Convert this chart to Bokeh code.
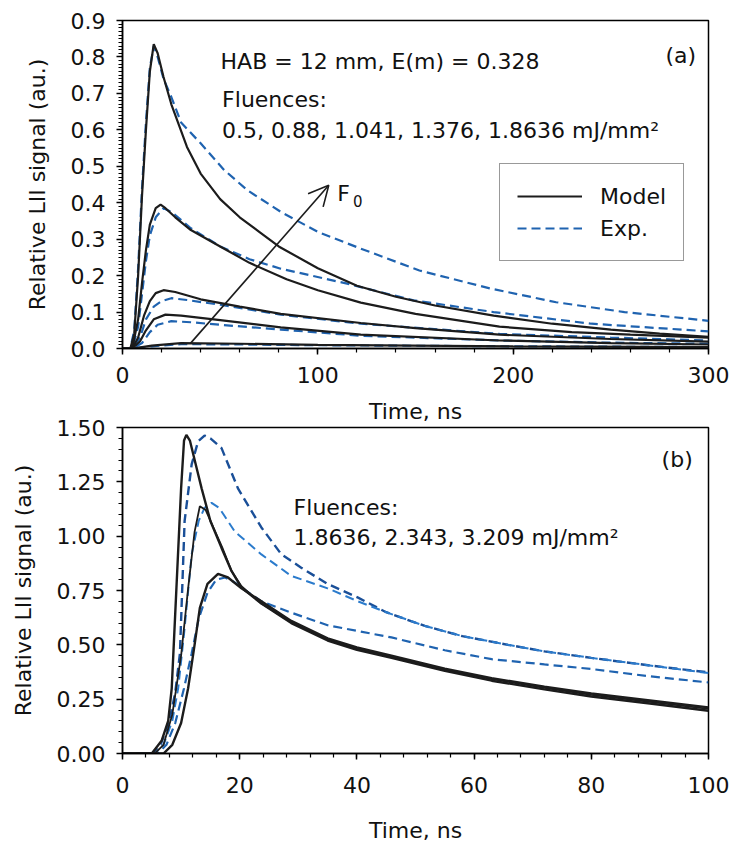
from bokeh.plotting import figure
from bokeh.layouts import column
from bokeh.models import (Range1d, SingleIntervalTicker, NumeralTickFormatter, Legend,
                          LegendItem, Arrow, OpenHead, Label, Title)
from bokeh.embed import file_html
from bokeh.resources import INLINE

FONT = "DejaVu Sans"
FS = "22px"

# ---------------- Panel (a) data: HAB = 12 mm ----------------
t_m1 = [0, 4, 6, 8, 10, 12, 14, 16, 18, 21, 25, 33, 40, 50, 60, 70, 80, 100, 120, 140, 160, 190, 220, 250, 275, 300]
v_m1 = [0, 0, 0.04, 0.20, 0.42, 0.60, 0.76, 0.835, 0.81, 0.745, 0.67, 0.553, 0.48, 0.41, 0.36, 0.32, 0.28, 0.22, 0.172, 0.142, 0.118, 0.09, 0.068, 0.052, 0.041, 0.032]
t_e1 = [0, 4, 6, 8, 10, 12, 14, 16, 18, 21, 25, 30, 40, 52, 64, 81, 100, 122, 152, 188, 222, 257, 300]
v_e1 = [0, 0, 0.05, 0.22, 0.44, 0.62, 0.77, 0.83, 0.80, 0.74, 0.69, 0.62, 0.563, 0.49, 0.434, 0.375, 0.32, 0.274, 0.214, 0.165, 0.127, 0.10, 0.076]

t_m2 = [0, 5, 8, 10, 12, 14, 17, 19.5, 22, 27, 35, 50, 65, 84, 100, 122, 150, 193, 230, 260, 300]
v_m2 = [0, 0, 0.08, 0.18, 0.27, 0.34, 0.385, 0.395, 0.385, 0.36, 0.325, 0.28, 0.235, 0.19, 0.16, 0.126, 0.095, 0.06, 0.045, 0.038, 0.03]
t_e2 = [0, 5, 8, 10, 12, 14, 17, 21, 25, 35, 50, 65, 81, 115, 149, 190, 240, 300]
v_e2 = [0, 0, 0.06, 0.15, 0.24, 0.31, 0.36, 0.385, 0.375, 0.33, 0.28, 0.245, 0.219, 0.178, 0.132, 0.10, 0.068, 0.047]

t_m3 = [0, 5, 8, 11, 14, 17, 21, 27, 40, 60, 81, 122, 150, 193, 250, 300]
v_m3 = [0, 0, 0.03, 0.09, 0.13, 0.152, 0.16, 0.155, 0.135, 0.115, 0.095, 0.07, 0.056, 0.038, 0.026, 0.019]
t_e3 = [0, 5, 9, 12, 16, 20, 25, 33, 50, 81, 122, 193, 250, 300]
v_e3 = [0, 0, 0.03, 0.08, 0.115, 0.13, 0.138, 0.133, 0.12, 0.093, 0.068, 0.04, 0.03, 0.022]

t_m4 = [0, 5, 9, 12, 16, 22, 30, 50, 81, 122, 193, 250, 300]
v_m4 = [0, 0, 0.02, 0.05, 0.08, 0.093, 0.09, 0.078, 0.058, 0.038, 0.022, 0.015, 0.011]
t_e4 = [0, 5, 10, 14, 18, 25, 35, 50, 81, 122, 193, 250, 300]
v_e4 = [0, 0, 0.015, 0.045, 0.065, 0.075, 0.072, 0.065, 0.052, 0.035, 0.022, 0.016, 0.013]

t_m5 = [0, 5, 15, 30, 60, 100, 200, 300]
v_m5 = [0, 0, 0.008, 0.015, 0.013, 0.01, 0.006, 0.004]
t_e5 = [0, 5, 15, 30, 60, 100, 200, 300]
v_e5 = [0, 0, 0.006, 0.012, 0.011, 0.009, 0.006, 0.004]

# ---------------- Panel (b) data ----------------
t_bmA = [0, 5, 6.7, 7.8, 8.4, 9.2, 10, 10.5, 10.9, 11.5, 12.5, 13.5, 15, 16.9, 18.6, 20.3, 23.7, 28.8, 35, 40, 45.9, 55, 63, 72, 80, 90, 100]
v_bmA = [0, 0, 0.06, 0.15, 0.30, 0.76, 1.22, 1.44, 1.466, 1.44, 1.33, 1.22, 1.07, 0.946, 0.84, 0.763, 0.69, 0.60, 0.52, 0.477, 0.44, 0.38, 0.335, 0.295, 0.262, 0.23, 0.197]
t_bmB = [0, 5.5, 7, 8.5, 10, 11.2, 12.3, 13.2, 14.2, 15.5, 17, 18.6, 20.3, 23.7, 28.8, 35, 40, 45.9, 55, 63, 72, 80, 90, 100]
v_bmB = [0, 0, 0.04, 0.18, 0.45, 0.76, 1.02, 1.138, 1.12, 1.04, 0.95, 0.84, 0.77, 0.69, 0.605, 0.525, 0.483, 0.445, 0.385, 0.342, 0.302, 0.27, 0.238, 0.205]
t_bmC = [0, 7, 8.5, 10, 11.2, 12.3, 13.2, 14.5, 16.3, 18, 20.3, 23.7, 28.8, 35, 40, 45.9, 55, 63, 72, 80, 90, 100]
v_bmC = [0, 0, 0.04, 0.14, 0.30, 0.50, 0.67, 0.78, 0.827, 0.81, 0.76, 0.70, 0.61, 0.53, 0.488, 0.45, 0.39, 0.347, 0.307, 0.276, 0.244, 0.212]

t_beA = [0, 5, 6.5, 8, 9, 9.8, 10.6, 11.8, 12.9, 14, 15, 16.9, 19.7, 23.7, 27.1, 30.5, 35, 40.2, 45, 51.6, 58, 65.8, 72, 80, 90, 100]
v_beA = [0, 0, 0.04, 0.15, 0.28, 0.46, 1.07, 1.33, 1.436, 1.463, 1.45, 1.405, 1.22, 1.04, 0.917, 0.855, 0.78, 0.717, 0.65, 0.587, 0.54, 0.50, 0.47, 0.44, 0.405, 0.373]
t_beB = [0, 5.5, 7, 8.5, 9.5, 10.5, 11.8, 13, 14, 15.2, 16.5, 19.2, 23.7, 28.8, 35, 40.2, 45, 51.6, 58, 65.8, 72, 80, 90, 100]
v_beB = [0, 0, 0.04, 0.15, 0.30, 0.55, 0.916, 1.07, 1.13, 1.153, 1.13, 1.02, 0.916, 0.817, 0.76, 0.70, 0.65, 0.587, 0.54, 0.50, 0.47, 0.44, 0.405, 0.37]
t_beC = [0, 6, 7.5, 9, 10.5, 11.8, 13, 14.5, 16, 17.5, 19, 21, 23.7, 28.8, 35, 45.9, 55, 63, 72, 80, 90, 100]
v_beC = [0, 0, 0.04, 0.14, 0.30, 0.46, 0.62, 0.74, 0.80, 0.81, 0.79, 0.75, 0.70, 0.648, 0.59, 0.534, 0.475, 0.434, 0.41, 0.389, 0.355, 0.327]

# texts
txt_a1 = "HAB = 12 mm, E(m) = 0.328"
txt_a2 = "Fluences:"
txt_a3 = "0.5, 0.88, 1.041, 1.376, 1.8636 mJ/mm\u00b2"
txt_b2 = "Fluences:"
txt_b3 = "1.8636, 2.343, 3.209 mJ/mm\u00b2"
xlabel = "Time, ns"
ylabel = "Relative LII signal (au.)"

BLACK = "#1c1c1c"
BLUE = "#1f63b0"
BLUE_D = "#1a4f98"
BLUE_L = "#2b7bcc"
DASH = "9 5"


def style(p, yfmt):
    p.outline_line_color = "black"
    p.outline_line_width = 1.5
    p.xgrid.visible = False
    p.ygrid.visible = False
    for ax in (p.xaxis[0], p.yaxis[0]):
        ax.axis_line_width = 1.5
        ax.axis_line_color = "black"
        ax.major_tick_line_width = 1.5
        ax.minor_tick_line_width = 1.2
        ax.major_tick_out = 6
        ax.major_tick_in = 0
        ax.minor_tick_out = 4
        ax.minor_tick_in = 0
        ax.major_label_text_font = FONT
        ax.major_label_text_font_size = FS
        ax.major_label_text_color = "#111111"
        ax.axis_label_text_font = FONT
        ax.axis_label_text_font_size = FS
        ax.axis_label_text_font_style = "normal"
        ax.axis_label_text_color = "#111111"
    p.yaxis[0].formatter = NumeralTickFormatter(format=yfmt)
    p.xaxis[0].formatter = NumeralTickFormatter(format="0")
    p.yaxis[0].major_label_standoff = 11
    p.yaxis[0].axis_label_standoff = 18
    p.yaxis[0].axis_label = ylabel


def label(p, x, y, text, size=FS, align="left"):
    p.add_layout(Label(x=x, y=y, text=text, text_font=FONT, text_font_size=size,
                       text_color="#111111", text_baseline="alphabetic", text_align=align))


# ---------------- Figure (a) ----------------
pa = figure(width=733, height=392, output_backend="svg", toolbar_location=None,
            x_range=Range1d(0, 300), y_range=Range1d(0, 0.9),
            min_border_left=122, min_border_right=25, min_border_top=20, min_border_bottom=44)
style(pa, "0.0")
pa.xaxis[0].ticker = SingleIntervalTicker(interval=100, num_minor_ticks=5)
pa.yaxis[0].ticker = SingleIntervalTicker(interval=0.1, num_minor_ticks=10)
pa.xaxis[0].major_label_standoff = 12

models_a = [(t_m1, v_m1), (t_m2, v_m2), (t_m3, v_m3), (t_m4, v_m4), (t_m5, v_m5)]
exps_a = [(t_e1, v_e1), (t_e2, v_e2), (t_e3, v_e3), (t_e4, v_e4), (t_e5, v_e5)]
r_exp = []
for t, v in exps_a:
    r_exp.append(pa.line(t, v, line_color=BLUE, line_width=2.2, line_dash=DASH))
r_mod = []
for t, v in models_a:
    r_mod.append(pa.line(t, v, line_color=BLACK, line_width=2.2))

legend = Legend(items=[LegendItem(label="Model", renderers=[r_mod[0]]),
                       LegendItem(label="Exp.", renderers=[r_exp[0]])],
                location=(377, 87), orientation="vertical",
                glyph_width=65, glyph_height=30, spacing=2, padding=17,
                label_standoff=18, label_text_font=FONT, label_text_font_size=FS,
                label_text_color="#111111", label_height=30,
                border_line_color="#333333", border_line_width=1.5,
                background_fill_alpha=1.0, margin=0)
pa.add_layout(legend, "center")

pa.add_layout(Arrow(end=OpenHead(size=20, line_width=1.6, line_color=BLACK),
                    x_start=34.8, y_start=0.014, x_end=105.6, y_end=0.448,
                    line_width=1.6, line_color=BLACK))
label(pa, 110, 0.426, "F")
label(pa, 118, 0.405, "0", "15px")
label(pa, 50.2, 0.788, txt_a1)
label(pa, 51, 0.684, txt_a2)
label(pa, 51, 0.599, txt_a3)
label(pa, 278, 0.805, "(a)")

# ---------------- Figure (b) ----------------
pb = figure(width=733, height=463, output_backend="svg", toolbar_location=None,
            x_range=Range1d(0, 100), y_range=Range1d(0, 1.5),
            min_border_left=122, min_border_right=25, min_border_top=34, min_border_bottom=102)
style(pb, "0.00")
pb.xaxis[0].ticker = SingleIntervalTicker(interval=20, num_minor_ticks=5)
pb.yaxis[0].ticker = SingleIntervalTicker(interval=0.25, num_minor_ticks=5)
pb.xaxis[0].axis_label = xlabel
pb.xaxis[0].major_label_standoff = 17
pb.xaxis[0].axis_label_standoff = 22

# x-axis title of panel (a): it sits in the narrow gap between the panels
pb.add_layout(Title(text=xlabel, align="center", text_font=FONT, text_font_size=FS,
                    text_font_style="normal", text_color="#111111", standoff=8), "above")

pb.line(t_beA, v_beA, line_color=BLUE_D, line_width=2.4, line_dash=DASH)
pb.line(t_beB, v_beB, line_color=BLUE_L, line_width=2.0, line_dash=DASH)
pb.line(t_beC, v_beC, line_color=BLUE, line_width=2.2, line_dash=DASH)
pb.line(t_bmA, v_bmA, line_color=BLACK, line_width=2.4)
pb.line(t_bmB, v_bmB, line_color=BLACK, line_width=1.8)
pb.line(t_bmC, v_bmC, line_color=BLACK, line_width=2.4)

label(pb, 29.2, 1.133, txt_b2)
label(pb, 29.2, 0.995, txt_b3)
label(pb, 92, 1.353, "(b)")

layout = column(pa, pb, spacing=0)
open("out.html", "w").write(file_html(layout, INLINE))
